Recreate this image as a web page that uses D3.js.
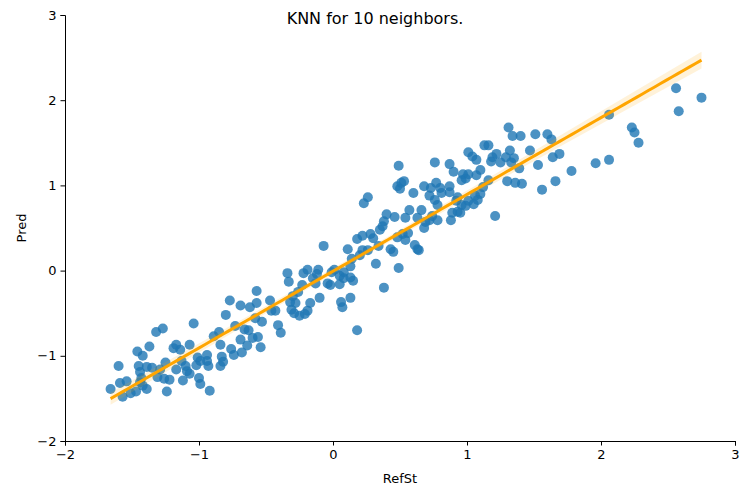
<!DOCTYPE html>
<html>
<head>
<meta charset="utf-8">
<script src="https://cdn.jsdelivr.net/npm/d3@7"></script>
<style>
  body { margin: 0; background: #fff; }
  text { font-family: "DejaVu Sans", sans-serif; }
</style>
</head>
<body>
<svg width="750" height="500"></svg>
<script>
const title  = "KNN for 10 neighbors.";
const xLabel = "RefSt";
const yLabel = "Pred";
const xTicks = [-2, -1, 0, 1, 2, 3];
const yTicks = [-2, -1, 0, 1, 2, 3];

const refSt = [
  -1.66, -1.60, -1.59, -1.57, -1.54, -1.51, -1.47, -1.46, -1.45, -1.44,
  -1.44, -1.42, -1.43, -1.42, -1.39, -1.39, -1.37, -1.35, -1.32, -1.27,
  -1.31, -1.29, -1.26, -1.25, -1.24, -1.22, -1.19, -1.17, -1.17, -1.14,
  -1.13, -1.12, -1.10, -1.09, -1.07, -1.07, -1.04, -1.02, -1.01, -1.00,
  -0.99, -0.99, -0.94, -0.94, -0.92, -0.93, -0.89, -0.85, -0.84, -0.84,
  -0.83, -0.82, -0.80, -0.77, -0.76, -0.74, -0.73, -0.69, -0.69, -0.68,
  -0.66, -0.64, -0.63, -0.62, -0.60, -0.58, -0.57, -0.57, -0.56, -0.54,
  -0.53, -0.47, -0.46, -0.43, -0.41, -0.39, -0.34, -0.33, -0.32, -0.31,
  -0.30, -0.29, -0.28, -0.26, -0.25, -0.23, -0.22, -0.21, -0.19, -0.19,
  -0.17, -0.15, -0.13, -0.12, -0.11, -0.10, -0.07, -0.04, -0.02, -0.01,
   0.01,  0.05,  0.05,  0.06,  0.07,  0.08,  0.08,  0.11,  0.13,  0.13,
   0.13,  0.15,  0.14,  0.18,  0.18,  0.20,  0.22,  0.23,  0.22,  0.26,
   0.26,  0.28,  0.30,  0.32,  0.34,  0.35,  0.37,  0.38,  0.38,  0.40,
   0.43,  0.45,  0.46,  0.48,  0.48,  0.49,  0.49,  0.50,  0.51,  0.52,
   0.53,  0.54,  0.54,  0.56,  0.57,  0.60,  0.61,  0.63,  0.63,  0.64,
   0.66,  0.68,  0.68,  0.69,  0.72,  0.72,  0.73,  0.74,  0.76,  0.76,
   0.77,  0.78,  0.78,  0.80,  0.81,  0.87,  0.87,  0.87,  0.88,  0.89,
   0.90,  0.92,  0.93,  0.93,  0.95,  0.96,  0.96,  0.97,  0.99,  0.99,
   1.01,  1.01,  1.01,  1.04,  1.05,  1.06,  1.07,  1.07,  1.08,  1.10,
   1.10,  1.12,  1.13,  1.16,  1.16,  1.18,  1.19,  1.21,  1.22,  1.25,
   1.29,  1.30,  1.31,  1.32,  1.33,  1.34,  1.35,  1.36,  1.39,  1.40,
   1.41,  1.47,  1.51,  1.53,  1.56,  1.60,  1.63,  1.64,  1.66,  1.69,
   1.78,  1.96,  2.06,  2.06,  2.23,  2.25,  2.28,  2.56,  2.58,  2.75
];
const pred = [
  -1.39, -1.12, -1.32, -1.48, -1.30, -1.44, -1.42, -0.95, -1.12, -1.19,
  -1.31, -1.00, -1.26, -1.35, -1.13, -1.39, -0.89, -1.14, -0.72, -0.68,
  -1.25, -1.16, -1.27, -1.08, -1.42, -1.28, -0.91, -0.87, -1.16, -0.93,
  -1.06, -1.29, -1.12, -1.18, -0.87, -1.21, -0.62, -1.11, -1.02, -1.26,
  -1.33, -1.06, -0.99, -1.06, -1.41, -1.12, -0.77, -0.72, -0.87, -1.12,
  -1.01, -1.07, -0.52, -0.35, -0.92, -0.99, -0.65, -0.81, -0.41, -0.96,
  -0.69, -0.88, -0.70, -0.43, -0.79, -0.56, -0.38, -0.24, -0.78, -0.90,
  -0.60, -0.35, -0.47, -0.47, -0.64, -0.73, -0.03, -0.13, -0.37, -0.46,
  -0.30, -0.50, -0.38, -0.25, -0.53, -0.17, -0.03, -0.51,  0.01, -0.47,
  -0.38, -0.09, -0.15, -0.04,  0.01, -0.32,  0.29, -0.15, -0.17, -0.02,
   0.01, -0.06, -0.16, -0.37, -0.43, -0.02, -0.09,  0.25, -0.32, -0.08,
   0.05, -0.12,  0.14, -0.70,  0.37,  0.18,  0.41,  0.79,  0.24,  0.86,
   0.24,  0.43,  0.38,  0.08,  0.29,  0.48,  0.52, -0.20,  0.58,  0.66,
   0.25,  0.22,  0.63,  0.39,  0.99,  1.23,  0.03,  0.96,  1.03,  0.43,
   1.05,  0.36,  0.62,  0.44,  0.71,  0.91,  0.30,  0.62,  0.25,  0.24,
   0.71,  0.50,  0.99,  0.57,  0.59,  0.88,  0.97,  0.64,  1.27,  0.83,
   1.03,  0.59,  0.77,  0.97,  0.91,  0.99,  0.92,  1.25,  0.59,  0.68,
   1.16,  0.82,  0.69,  0.86,  0.68,  1.06,  0.77,  1.13,  1.08,  0.76,
   1.39,  1.13,  0.82,  1.34,  0.78,  0.88,  1.12,  1.30,  0.83,  1.18,
   0.90,  0.98,  1.47,  1.47,  1.06,  1.28,  1.33,  0.64,  1.37,  1.27,
   1.33,  1.05,  1.68,  1.41,  1.27,  1.58,  1.32,  1.03,  1.20,  1.58,
   1.02,  1.41,  1.60,  1.24,  0.95,  1.60,  1.54,  1.33,  1.05,  1.37,
   1.17,  1.26,  1.30,  1.83,  1.68,  1.62,  1.50,  2.14,  1.87,  2.03
];

const svg = d3.select("svg");
const plotLeft = 65, plotRight = 735, plotTop = 15, plotBottom = 441;

const x = d3.scaleLinear().domain([-2, 3]).range([plotLeft, plotRight]);
const y = d3.scaleLinear().domain([-2, 3]).range([plotBottom, plotTop]);

const points = refSt.map((v, i) => ({ x: v, y: pred[i] }));

// least squares fit + 95% band
const n   = points.length;
const mx  = d3.mean(refSt);
const my  = d3.mean(pred);
const sxx = d3.sum(refSt, v => (v - mx) ** 2);
const sxy = d3.sum(points, d => (d.x - mx) * (d.y - my));
const b   = sxy / sxx;
const a   = my - b * mx;
const s   = Math.sqrt(d3.sum(points, d => (d.y - a - b * d.x) ** 2) / (n - 2));

const [x0, x1] = d3.extent(refSt);
const fit = d3.range(0, 101).map(i => {
  const xv = x0 + (x1 - x0) * i / 100;
  const se = s * Math.sqrt(1 / n + (xv - mx) ** 2 / sxx);
  const yv = a + b * xv;
  return { x: xv, y: yv, lo: yv - 1.97 * se, hi: yv + 1.97 * se };
});

svg.append("g")
  .selectAll("circle")
  .data(points)
  .join("circle")
    .attr("cx", d => x(d.x))
    .attr("cy", d => y(d.y))
    .attr("r", 5)
    .attr("fill", "#1f77b4")
    .attr("fill-opacity", 0.8);

svg.append("path")
  .attr("d", d3.area().x(d => x(d.x)).y0(d => y(d.lo)).y1(d => y(d.hi))(fit))
  .attr("fill", "orange")
  .attr("fill-opacity", 0.15);

svg.append("path")
  .attr("d", d3.line().x(d => x(d.x)).y(d => y(d.y))(fit))
  .attr("stroke", "orange")
  .attr("stroke-width", 3)
  .attr("fill", "none");

const xAxis = svg.append("g")
  .attr("transform", `translate(0,${plotBottom})`)
  .call(d3.axisBottom(x).tickValues(xTicks).tickFormat(d3.format("d")).tickSizeOuter(0).tickSize(4.5).tickPadding(4));
const yAxis = svg.append("g")
  .attr("transform", `translate(${plotLeft},0)`)
  .call(d3.axisLeft(y).tickValues(yTicks).tickFormat(d3.format("d")).tickSizeOuter(0).tickSize(4.5).tickPadding(4));

[xAxis, yAxis].forEach(g => {
  g.selectAll("text").attr("font-size", 13).attr("fill", "#000").style("font-family", "DejaVu Sans");
  g.selectAll("line, path").attr("stroke", "#000").attr("stroke-width", 1);
});

svg.append("text")
  .attr("x", (plotLeft + plotRight) / 2)
  .attr("y", 483)
  .attr("text-anchor", "middle")
  .attr("font-size", 13)
  .text(xLabel);

svg.append("text")
  .attr("transform", `translate(26,${(plotTop + plotBottom) / 2}) rotate(-90)`)
  .attr("text-anchor", "middle")
  .attr("font-size", 13)
  .text(yLabel);

svg.append("text")
  .attr("x", 375)
  .attr("y", 24)
  .attr("text-anchor", "middle")
  .attr("font-size", 16)
  .text(title);
</script>
</body>
</html>
